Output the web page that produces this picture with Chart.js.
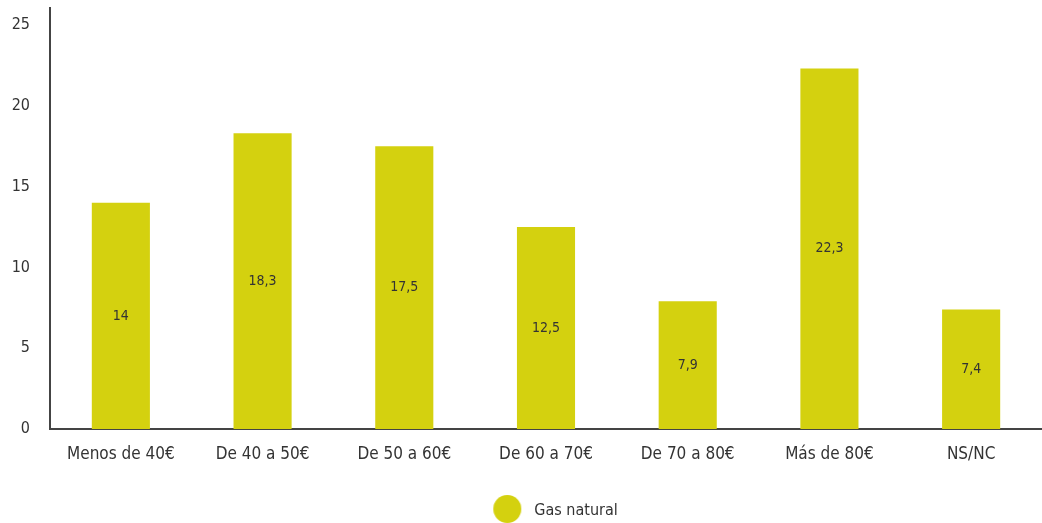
<!DOCTYPE html>
<html>
<head>
<meta charset="utf-8">
<script src="https://cdn.jsdelivr.net/npm/chart.js@4/dist/chart.umd.min.js"></script>
<style>
  html, body { margin: 0; padding: 0; background: #ffffff; }
  #wrap { width: 1042px; height: 523px; }
</style>
</head>
<body>
<div id="wrap"><canvas id="c" width="1042" height="523"></canvas></div>
<script>
const categories = ['Menos de 40€', 'De 40 a 50€', 'De 50 a 60€', 'De 60 a 70€', 'De 70 a 80€', 'Más de 80€', 'NS/NC'];
const gasNatural = [14, 18.3, 17.5, 12.5, 7.9, 22.3, 7.4];
const seriesName = 'Gas natural';
const yTicks = [0, 5, 10, 15, 20, 25];

const BAR = '#d4d10f';
const INK = '#333333';
const FONT = "'DejaVu Sans Condensed', 'Liberation Sans Narrow', sans-serif";

// round legend marker; drawn toward the right of a wider sprite so the
// label sits a little further from the dot
const dot = document.createElement('canvas');
dot.width = 96; dot.height = 32;
(function () {
  const g = dot.getContext('2d');
  g.fillStyle = BAR;
  g.beginPath();
  g.arc(77, 14, 14, 0, Math.PI * 2);
  g.fill();
})();

// value printed in the middle of each bar, with a decimal comma
const barValues = {
  id: 'barValues',
  afterDatasetsDraw(chart) {
    const ctx = chart.ctx;
    const meta = chart.getDatasetMeta(0);
    ctx.save();
    ctx.fillStyle = INK;
    ctx.font = '14px ' + FONT;
    ctx.textAlign = 'center';
    ctx.textBaseline = 'middle';
    meta.data.forEach((bar, i) => {
      const v = chart.data.datasets[0].data[i];
      const txt = String(v).replace('.', ',');
      ctx.fillText(txt, bar.x, (bar.y + bar.base) / 2);
    });
    ctx.restore();
  }
};

new Chart(document.getElementById('c'), {
  type: 'bar',
  data: {
    labels: categories,
    datasets: [{
      label: seriesName,
      data: gasNatural,
      backgroundColor: BAR,
      borderWidth: 0,
      barPercentage: 0.41,
      categoryPercentage: 1.0,
      pointStyle: dot
    }]
  },
  options: {
    responsive: false,
    animation: false,
    layout: { padding: { top: 8, left: 0, right: -6, bottom: -6 } },
    plugins: {
      tooltip: { enabled: false },
      legend: {
        position: 'bottom',
        labels: {
          usePointStyle: true,
          pointStyleWidth: 96,
          color: INK,
          font: { family: FONT, size: 16 },
          padding: 8
        }
      }
    },
    scales: {
      x: {
        grid: { display: false, drawTicks: false },
        border: { display: true, color: '#444444', width: 2 },
        ticks: { color: INK, font: { family: FONT, size: 17 }, padding: 15, maxRotation: 0 },
        afterFit(scale) {
          scale.height = 66;
          scale.paddingLeft = 0;
          scale.paddingRight = 0;
        }
      },
      y: {
        min: 0,
        max: 26.05,
        afterBuildTicks(scale) { scale.ticks = yTicks.map(v => ({ value: v })); },
        grid: { display: false, drawTicks: false },
        border: { display: true, color: '#444444', width: 2 },
        ticks: { color: INK, font: { family: FONT, size: 16 }, padding: 20 },
        afterFit(scale) {
          scale.width = 50;
          scale.paddingTop = 0;
          scale.paddingBottom = 0;
        }
      }
    }
  },
  plugins: [barValues]
});
</script>
</body>
</html>
